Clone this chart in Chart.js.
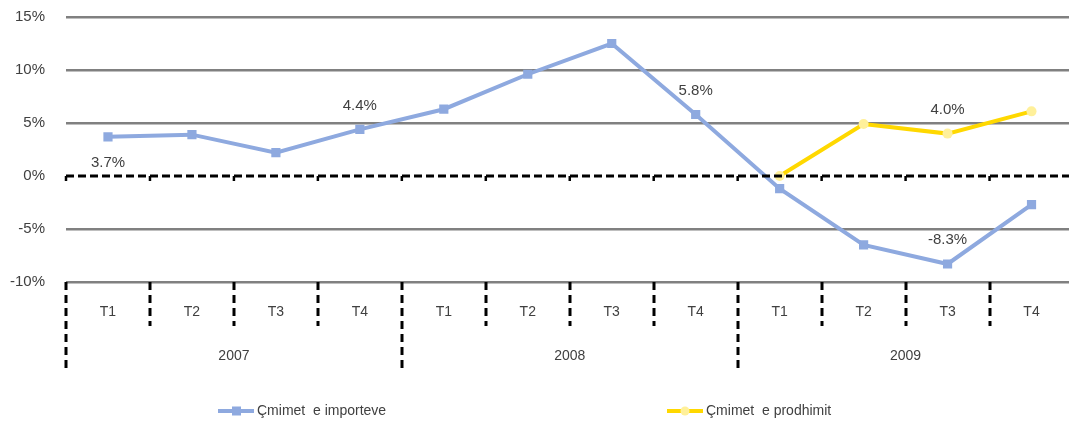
<!DOCTYPE html>
<html>
<head>
<meta charset="utf-8">
<script src="https://cdn.jsdelivr.net/npm/chart.js@4/dist/chart.umd.min.js"></script>
<style>
html,body{margin:0;padding:0;overflow:hidden;background:#fff;}
#wrap{width:1080px;height:423px;}
</style>
</head>
<body>
<div id="wrap"><canvas id="c" width="1080" height="423"></canvas></div>
<script>
const quarters = ["T1","T2","T3","T4","T1","T2","T3","T4","T1","T2","T3","T4"];
const years = ["2007","2008","2009"];
const categories = quarters.map((q,i)=>years[Math.floor(i/4)]+" "+q);
const importPrices = [3.7, 3.9, 2.2, 4.4, 6.3, 9.6, 12.5, 5.8, -1.2, -6.5, -8.3, -2.7];
const producerPrices = [null, null, null, null, null, null, null, null, 0.0, 4.9, 4.0, 6.1];
const seriesNames = ["Çmimet  e importeve", "Çmimet  e prodhimit"];
const yTicks = [-10, -5, 0, 5, 10, 15];
// labelled points: [datasetIndex, pointIndex, placement]
const shownLabels = [[0,0,"below"],[0,3,"above"],[0,7,"above"],[0,10,"above"],[1,10,"above"]];

const FONT = "'Liberation Sans', Arial, sans-serif";
const TXT = "#404040";

const overlay = {
  id: "overlay",
  afterDatasetsDraw(chart) {
    const ctx = chart.ctx, x = chart.scales.x, y = chart.scales.y, a = chart.chartArea;
    const y0 = y.getPixelForValue(0);
    const step = x.getPixelForValue(1) - x.getPixelForValue(0);
    ctx.save();
    ctx.strokeStyle = "#000"; ctx.lineWidth = 3; ctx.setLineDash([8,4]);
    ctx.beginPath(); ctx.moveTo(a.left, y0); ctx.lineTo(a.right, y0); ctx.stroke();
    ctx.setLineDash([]);
    ctx.lineWidth = 2.5;
    for (let i = 0; i <= quarters.length; i++) {
      const bx = x.getPixelForValue(i) - step/2;
      ctx.beginPath(); ctx.moveTo(bx, y0); ctx.lineTo(bx, y0+5); ctx.stroke();
    }
    ctx.lineWidth = 3; ctx.setLineDash([8,5]);
    for (let i = 0; i < quarters.length; i++) {
      const bx = Math.round(x.getPixelForValue(i) - step/2);
      const isYear = i % 4 === 0;
      ctx.beginPath(); ctx.moveTo(bx, a.bottom); ctx.lineTo(bx, isYear ? a.bottom+90 : a.bottom+44); ctx.stroke();
    }
    ctx.setLineDash([]);
    ctx.fillStyle = TXT; ctx.font = "15px " + FONT; ctx.textBaseline = "middle";
    ctx.textAlign = "right";
    y.ticks.forEach(t=>ctx.fillText(t.value + "%", a.left - 21, y.getPixelForValue(t.value)));
    ctx.font = "14px " + FONT;
    ctx.textAlign = "center";
    quarters.forEach((q,i)=>ctx.fillText(q, x.getPixelForValue(i), a.bottom+30));
    years.forEach((yr,k)=>{
      const cx = (x.getPixelForValue(k*4) + x.getPixelForValue(k*4+3))/2;
      ctx.fillText(yr, cx, a.bottom+74);
    });
    ctx.font = "15px " + FONT;
    shownLabels.forEach(([d,i,pos])=>{
      const v = chart.data.datasets[d].data[i];
      const px = x.getPixelForValue(i), py = y.getPixelForValue(v);
      ctx.fillText(v.toFixed(1)+"%", px, pos==="below" ? py+26 : py-24);
    });
    ctx.font = "14px " + FONT;
    const items = [[218, 0], [667, 1]];
    const ly = 411;
    items.forEach(([lx, d])=>{
      const ds = chart.data.datasets[d];
      ctx.strokeStyle = ds.borderColor; ctx.lineWidth = 4;
      ctx.beginPath(); ctx.moveTo(lx, ly); ctx.lineTo(lx+36, ly); ctx.stroke();
      ctx.fillStyle = ds.pointBackgroundColor;
      if (ds.pointStyle === "rect") { ctx.fillRect(lx+14, ly-4.5, 9, 9); }
      else { ctx.beginPath(); ctx.arc(lx+18, ly, 4.5, 0, Math.PI*2); ctx.fill(); }
      ctx.fillStyle = TXT; ctx.textAlign = "left";
      ctx.fillText(seriesNames[d], lx+39, ly);
    });
    ctx.restore();
  }
};

new Chart(document.getElementById("c"), {
  type: "line",
  data: {
    labels: categories,
    datasets: [
      { label: seriesNames[0], data: importPrices, borderColor: "#8EA9DF", backgroundColor: "#8EA9DF",
        pointBackgroundColor: "#8EA9DF", pointBorderColor: "#8EA9DF", pointStyle: "rect",
        pointRadius: 6.5, pointBorderWidth: 0, borderWidth: 4, tension: 0 },
      { label: seriesNames[1], data: producerPrices, borderColor: "#FFD800", backgroundColor: "#FFD800",
        pointBackgroundColor: "#FFF09A", pointBorderColor: "#FFF09A", pointStyle: "circle",
        pointRadius: 5, pointBorderWidth: 0, borderWidth: 4, tension: 0 }
    ]
  },
  options: {
    responsive: false, animation: false,
    layout: { padding: { top: 17, bottom: 141, right: 0, left: 0 } },
    plugins: { legend: { display: false }, tooltip: { enabled: false } },
    scales: {
      x: { display: false, offset: true },
      y: {
        min: -10, max: 15,
        afterFit(s) { s.width = 66; },
        afterBuildTicks(s) { s.ticks = yTicks.map(v=>({value:v})); },
        border: { display: false },
        grid: { drawTicks: false, lineWidth: 2.5,
                color: c => c.tick && c.tick.value === 0 ? "rgba(0,0,0,0)" : "#808080" },
        ticks: { display: false, padding: 0 }
      }
    }
  },
  plugins: [overlay]
});
</script>
</body>
</html>
